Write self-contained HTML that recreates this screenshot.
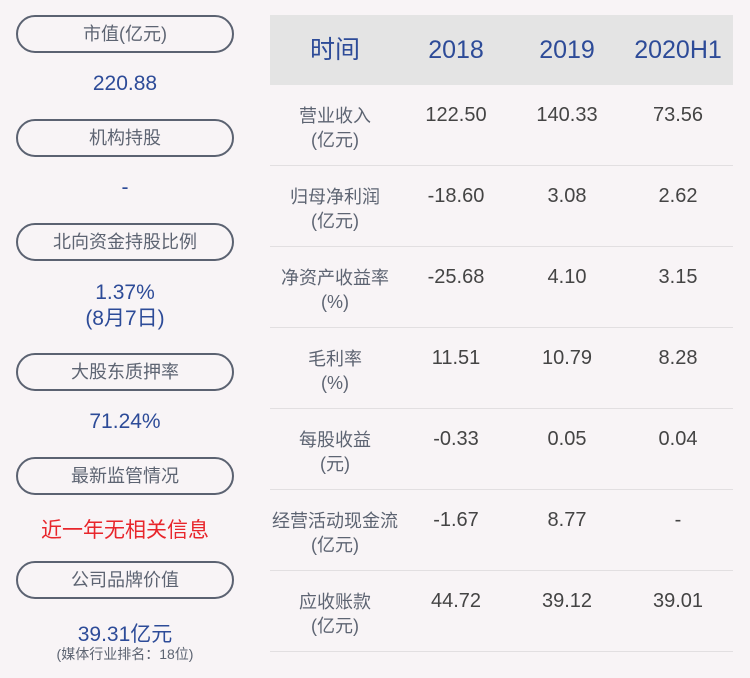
<!DOCTYPE html>
<html><head><meta charset="utf-8"><style>
body{margin:0;width:750px;height:678px;background:#f8f4f6;position:relative;overflow:hidden;font-family:"Liberation Sans","Noto Sans CJK SC",sans-serif;}
.a{position:absolute;}
.pill{position:absolute;left:16px;width:214px;height:34px;border:2px solid #5b6271;border-radius:19px;color:#5d6472;font-size:18px;line-height:34px;text-align:center;}
.val{position:absolute;left:0;width:250px;text-align:center;color:#2d4b98;font-size:21px;}
.hdr{position:absolute;left:270px;top:15px;width:463px;height:70px;background:#e4e4e4;}
.h{position:absolute;top:15px;height:70px;line-height:70px;color:#2d4b98;font-size:25px;text-align:center;width:120px;}
.lbl{position:absolute;left:270px;width:130px;text-align:center;color:#5d6472;font-size:18px;line-height:24px;}
.v{position:absolute;width:110px;text-align:center;color:#444;font-size:20px;}
.line{position:absolute;left:270px;width:463px;height:1px;background:#e2dfe1;}
</style></head><body>
<div class="pill" style="top:15px">市值(亿元)</div>
<div class="val" style="top:72px">220.88</div>
<div class="pill" style="top:119px">机构持股</div>
<div class="val" style="top:176px">-</div>
<div class="pill" style="top:223px">北向资金持股比例</div>
<div class="val" style="top:280px;line-height:26px">1.37%<br>(8月7日)</div>
<div class="pill" style="top:353px">大股东质押率</div>
<div class="val" style="top:410px">71.24%</div>
<div class="pill" style="top:457px">最新监管情况</div>
<div class="val" style="top:514px;color:#e8252b">近一年无相关信息</div>
<div class="pill" style="top:561px">公司品牌价值</div>
<div class="val" style="top:618px">39.31亿元</div>
<div class="val" style="top:644px;font-size:14px;color:#5d6472">(媒体行业排名：18位)</div>

<div class="hdr"></div>
<div class="h" style="left:275px">时间</div>
<div class="h" style="left:396px">2018</div>
<div class="h" style="left:507px">2019</div>
<div class="h" style="left:618px">2020H1</div>
<div id="rows"></div>
<script>
const labels=[["营业收入","(亿元)"],["归母净利润","(亿元)"],["净资产收益率","(%)"],["毛利率","(%)"],["每股收益","(元)"],["经营活动现金流","(亿元)"],["应收账款","(亿元)"]];
const v2018=["122.50","-18.60","-25.68","11.51","-0.33","-1.67","44.72"];
const v2019=["140.33","3.08","4.10","10.79","0.05","8.77","39.12"];
const v2020=["73.56","2.62","3.15","8.28","0.04","-","39.01"];
const root=document.getElementById('rows');
labels.forEach((l,i)=>{
  const top=85+81*i;
  const lb=document.createElement('div');lb.className='lbl';lb.style.top=(top+19)+'px';lb.innerHTML=l[0]+'<br>'+l[1];
  
  
  root.appendChild(lb);
  [[v2018,401],[v2019,512],[v2020,623]].forEach(([arr,x])=>{
    const c=document.createElement('div');c.className='v';c.style.left=x+'px';c.style.top=(top+19)+'px';c.textContent=arr[i];
    
    
    root.appendChild(c);
  });
  const ln=document.createElement('div');ln.className='line';ln.style.top=(top+80)+'px';
  
  
  root.appendChild(ln);
});
</script>
</body></html>
